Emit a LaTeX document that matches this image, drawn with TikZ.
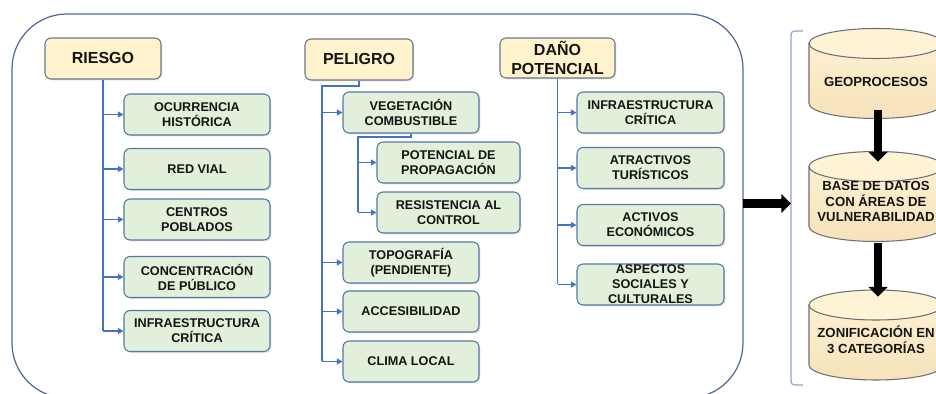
\documentclass[tikz,border=0pt]{standalone}
\usepackage{fontspec}
\setmainfont{Liberation Sans}
\usetikzlibrary{arrows.meta}
\usetikzlibrary{shadows}

\definecolor{headfill}{RGB}{255,242,204}
\definecolor{headline}{RGB}{105,120,140}
\definecolor{itemfill}{RGB}{226,239,218}
\definecolor{itemline}{RGB}{84,120,165}
\definecolor{linkblue}{RGB}{68,114,196}
\definecolor{framec}{RGB}{80,108,150}
\definecolor{brkc}{RGB}{140,162,205}
\definecolor{cylbody}{RGB}{246,226,186}
\definecolor{cylend}{RGB}{255,243,214}
\definecolor{cylline}{RGB}{110,110,115}
\definecolor{ink}{RGB}{20,20,20}

\begin{document}
\begin{tikzpicture}[x=0.02cm,y=-0.02cm,
    head/.style={draw=headline, fill=headfill, rounded corners=3.5pt, line width=0.6pt,
        minimum height=0.82cm, inner sep=1pt, align=center, text=ink,
        font=\fontsize{9.1}{10.8}\selectfont\bfseries,
        drop shadow={shadow xshift=0.8pt, shadow yshift=-0.8pt, opacity=0.25}},
    item/.style={draw=itemline, fill=itemfill, rounded corners=3.5pt, line width=0.6pt,
        minimum height=0.82cm, inner sep=1pt, align=center, text=ink,
        font=\fontsize{7.2}{8.5}\selectfont\bfseries,
        drop shadow={shadow xshift=0.8pt, shadow yshift=-0.8pt, opacity=0.25}},
    link/.style={draw=linkblue, line width=0.6pt},
    tip/.style={link, -{Triangle[length=3.2pt,width=3.4pt]}},
    store/.style={rectangle, minimum width=2.72cm, minimum height=1.84cm, inner sep=0pt,
        path picture={
            \draw[cylline, line width=0.6pt, top color=cylend, bottom color=cylbody]
                ([shift={(-1.34cm,0.6cm)}]path picture bounding box.center)
                -- ([shift={(-1.34cm,-0.6cm)}]path picture bounding box.center)
                arc[start angle=180, end angle=360, x radius=1.34cm, y radius=0.3cm]
                -- ([shift={(1.34cm,0.6cm)}]path picture bounding box.center) -- cycle;
            \draw[cylline, line width=0.6pt, fill=cylend]
                ([yshift=0.6cm]path picture bounding box.center) ellipse [x radius=1.34cm, y radius=0.3cm];
        }},
    stxt/.style={align=center, text=ink, font=\fontsize{7.5}{9}\selectfont\bfseries},
    fat/.style={draw=black, line width=4.8pt, -{Triangle[length=5.5pt,width=10.5pt]}}
]
    \useasboundingbox (0,0) rectangle (936,394);

    % Frame
    \draw[framec, line width=0.7pt, rounded corners=1.1cm] (12,14) rectangle (743,398);

    % Headers
    \node[head, minimum width=2.32cm] (riesgo) at (103,58.5) {RIESGO};
    \node[head, minimum width=2.16cm] (peligro) at (359,59.5) {PELIGRO};
    \node[head, minimum width=2.30cm, minimum height=0.80cm] (dano) at (557.5,58) {DAÑO\\POTENCIAL};

    % Riesgo
    \node[item, minimum width=2.92cm] (ocu) at (197,114.5) {OCURRENCIA\\HISTÓRICA};
    \node[item, minimum width=2.92cm] (red) at (197,169) {RED VIAL};
    \node[item, minimum width=2.92cm] (cen) at (197,219.5) {CENTROS\\POBLADOS};
    \node[item, minimum width=2.92cm] (con) at (197,277) {CONCENTRACIÓN\\DE PÚBLICO};
    \node[item, minimum width=2.92cm] (infr) at (197,331) {INFRAESTRUCTURA\\CRÍTICA};

    % Peligro
    \node[item, minimum width=2.72cm] (veg) at (411,112.5) {VEGETACIÓN\\COMBUSTIBLE};
    \node[item, minimum width=2.86cm] (pot) at (448.5,162.5) {POTENCIAL DE\\PROPAGACIÓN};
    \node[item, minimum width=2.86cm] (res) at (448.5,212.5) {RESISTENCIA AL\\CONTROL};
    \node[item, minimum width=2.72cm] (topo) at (411,262.5) {TOPOGRAFÍA\\(PENDIENTE)};
    \node[item, minimum width=2.72cm] (acc) at (411,311.5) {ACCESIBILIDAD};
    \node[item, minimum width=2.72cm] (cli) at (411,361.5) {CLIMA LOCAL};

    % Dano potencial
    \node[item, minimum width=2.94cm] (infd) at (650.5,112.5) {INFRAESTRUCTURA\\CRÍTICA};
    \node[item, minimum width=2.94cm] (atr) at (650.5,168) {ATRACTIVOS\\TURÍSTICOS};
    \node[item, minimum width=2.94cm] (act) at (650.5,225) {ACTIVOS\\ECONÓMICOS};
    \node[item, minimum width=2.94cm, inner ysep=0pt] (asp) at (650.5,284.5) {ASPECTOS\\SOCIALES Y\\CULTURALES};

    % Links
    \draw[link] (riesgo.south) -- (riesgo.south |- infr.west);
    \foreach \n in {ocu,red,cen,con,infr}
        \draw[tip] (riesgo.south |- \n.west) -- (\n.west);

    \coordinate (pbus) at (322,86);
    \draw[link] (peligro.south) -- (peligro.south |- pbus) -- (pbus) -- (pbus |- cli.west);
    \foreach \n in {veg,topo,acc,cli}
        \draw[tip] (pbus |- \n.west) -- (\n.west);

    \coordinate (vbus) at (358,137);
    \draw[link] (veg.south) -- (veg.south |- vbus) -- (vbus) -- (vbus |- res.west);
    \foreach \n in {pot,res}
        \draw[tip] (vbus |- \n.west) -- (\n.west);

    \draw[link] (dano.south) -- (dano.south |- asp.west);
    \foreach \n in {infd,atr,act,asp}
        \draw[tip] (dano.south |- \n.west) -- (\n.west);

    % Bracket
    \draw[brkc, line width=0.7pt, rounded corners=2pt] (803,31) -- (791,31) -- (791,385) -- (803,385);
    \coordinate (frameE) at (743,203.5);
    \coordinate (brk) at (791,203.5);
    \draw[fat] (frameE) -- (brk);

    % Stores
    \node[store, label={[stxt, yshift=-0.17cm]center:GEOPROCESOS}] (geo) at (876,73.5) {};
    \node[store, label={[stxt, yshift=-0.1cm]center:{BASE DE DATOS\\CON ÁREAS DE\\VULNERABILIDAD}}] (base) at (876,196.5) {};
    \node[store, label={[stxt, yshift=-0.1cm]center:{ZONIFICACIÓN EN\\3 CATEGORÍAS}}] (zon) at (876,335) {};

    \draw[fat] ([xshift=0.04cm, yshift=0.19cm]geo.south) -- ([xshift=0.04cm, yshift=-0.23cm]base.north);
    \draw[fat] ([xshift=0.04cm]base.south) -- ([xshift=0.04cm, yshift=-0.16cm]zon.north);
\end{tikzpicture}
\end{document}
